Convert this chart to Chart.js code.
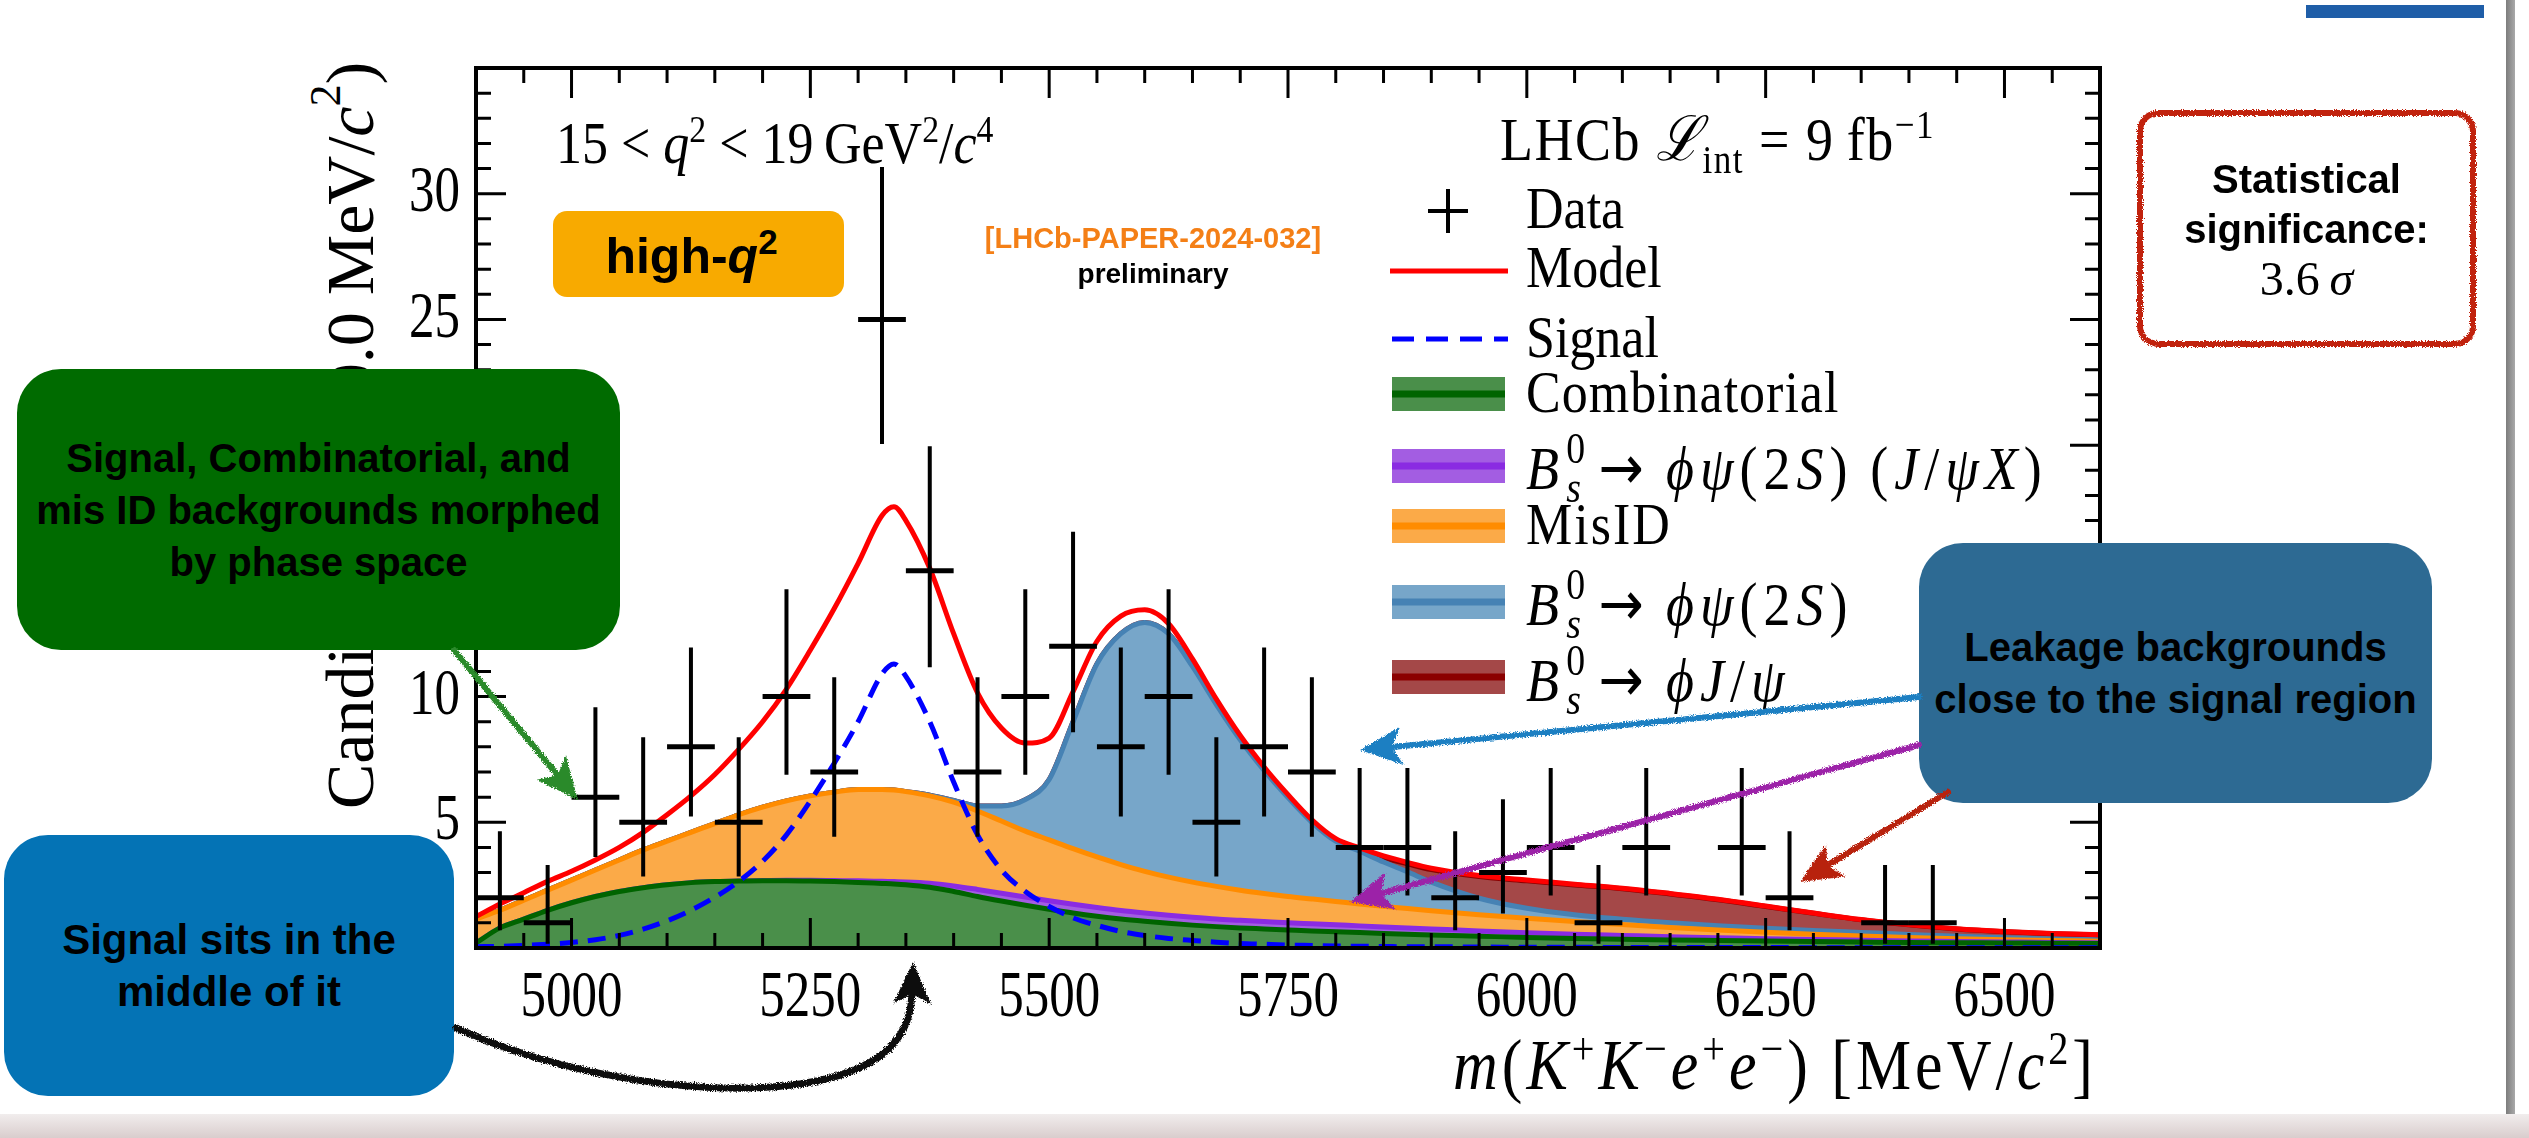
<!DOCTYPE html>
<html>
<head>
<meta charset="utf-8">
<script src="https://cdn.jsdelivr.net/npm/chart.js@4.4.1/dist/chart.umd.min.js"></script>
<style>
  body { margin: 0; width: 2529px; height: 1138px; position: relative; overflow: hidden; background: #fff; }
  #fit { position: absolute; left: 0; top: 0; z-index: 1; }
  .t { position: absolute; line-height: 1; white-space: nowrap; font-family: "Liberation Serif", "DejaVu Serif", serif; color: #000; z-index: 2;
       transform: scaleY(1.15); transform-origin: left 84%; }
  .mx { letter-spacing: 6px; font-size: 54px; }
  .ss { display: inline-block; vertical-align: -0.3em; line-height: 0.9; font-size: 0.7em; margin-left: 0.03em; letter-spacing: 0; }
  .ss span { display: block; }
  .arr { font-family: "DejaVu Sans", sans-serif; margin: 0 0.3em 0 0.25em; }
  .ytitle { position: absolute; left: 292px; top: 62px; height: 800px; width: 68px; writing-mode: vertical-rl; transform: rotate(180deg); text-align: end; font-family: "Liberation Serif", serif; font-size: 68px; line-height: 68px; white-space: nowrap; z-index: 0; }
  .box { position: absolute; display: flex; align-items: center; justify-content: center; text-align: center; font-family: "Liberation Sans", Arial, sans-serif; font-weight: bold; color: #000; z-index: 4; }
  .note { position: absolute; font-family: "Liberation Sans", Arial, sans-serif; font-weight: bold; white-space: nowrap; transform: translateX(-50%); z-index: 2; line-height: 1; }
  #marks { position: absolute; left: 0; top: 0; z-index: 5; pointer-events: none; }
</style>
</head>
<body>
<canvas id="fit" width="2529" height="1138"></canvas>

<div class="ytitle">Candidates / (50.0 MeV/<i>c</i><sup style="font-size:0.65em">2</sup>)</div>

<div class="t" style="left:556px; top:117px; font-size:52px;">15 &lt; <i>q</i><sup style="font-size:0.65em">2</sup> &lt; 19&#8201;GeV<sup style="font-size:0.65em">2</sup>/<i>c</i><sup style="font-size:0.65em">4</sup></div>
<div class="t" style="left:1500px; top:113px; font-size:54px; letter-spacing:1.5px;">LHCb <i>&#8466;</i><sub style="font-size:0.65em">int</sub> = 9&#8201;fb<sup style="font-size:0.65em">&minus;1</sup></div>

<div class="t" style="left:1526px; top:185px; font-size:52px;">Data</div>
<div class="t" style="left:1526px; top:244px; font-size:52px;">Model</div>
<div class="t" style="left:1526px; top:314px; font-size:52px;">Signal</div>
<div class="t" style="left:1526px; top:369px; font-size:52px; letter-spacing:1px;">Combinatorial</div>
<div class="t mx" style="left:1526px; top:437px;"><i>B</i><span class="ss"><span>0</span><span><i>s</i></span></span><span class="arr">&rarr;</span><i>&#981;&psi;</i>(2<i>S</i>)&#8201;(<i>J</i>/<i>&psi;X</i>)</div>
<div class="t" style="left:1526px; top:501px; font-size:52px; letter-spacing:2px;">MisID</div>
<div class="t mx" style="left:1526px; top:573px;"><i>B</i><span class="ss"><span>0</span><span><i>s</i></span></span><span class="arr">&rarr;</span><i>&#981;&psi;</i>(2<i>S</i>)</div>
<div class="t mx" style="left:1526px; top:649px;"><i>B</i><span class="ss"><span>0</span><span><i>s</i></span></span><span class="arr">&rarr;</span><i>&#981;J</i>/<i>&psi;</i></div>

<div class="t" style="right:432px; top:1034px; font-size:62px; letter-spacing:4px;"><i>m</i>(<i>K</i><sup style="font-size:0.65em">+</sup><i>K</i><sup style="font-size:0.65em">&minus;</sup><i>e</i><sup style="font-size:0.65em">+</sup><i>e</i><sup style="font-size:0.65em">&minus;</sup>) [MeV/<i>c</i><sup style="font-size:0.65em">2</sup>]</div>

<div class="note" style="left:1153px; top:224px; font-size:29px; color:#f47f16;">[LHCb-PAPER-2024-032]</div>
<div class="note" style="left:1153px; top:260px; font-size:28px; color:#000;">preliminary</div>

<div class="box" style="left:553px; top:211px; width:291px; height:86px; background:#f8aa00; border-radius:14px; font-size:50px; z-index:2;"><span style="margin-right:14px;">high-<i>q</i><sup style="font-size:0.7em; vertical-align:0.55em;">2</sup></span></div>

<div class="box" style="left:17px; top:369px; width:603px; height:281px; background:#006b00; border-radius:44px; font-size:40px; line-height:52px;">Signal, Combinatorial, and<br>mis ID backgrounds morphed<br>by phase space</div>
<div class="box" style="left:4px; top:835px; width:450px; height:261px; background:#0473b5; border-radius:44px; font-size:42px; line-height:52px;">Signal sits in the<br>middle of it</div>
<div class="box" style="left:1919px; top:543px; width:513px; height:260px; background:#2d6a93; border-radius:44px; font-size:40px; line-height:52px;">Leakage backgrounds<br>close to the signal region</div>
<div class="box" style="left:2140px; top:113px; width:333px; height:231px; font-size:40px; line-height:50px; flex-direction:column;">
  <div>Statistical</div><div>significance:</div>
  <div style="font-family:'Liberation Serif',serif; font-weight:normal; font-size:48px;">3.6&#8201;<i>&sigma;</i></div>
</div>

<div style="position:absolute; left:2306px; top:5px; width:178px; height:13px; background:#1f5ea8;"></div>
<div style="position:absolute; left:2506px; top:0; width:9px; height:1115px; background:linear-gradient(to right,#7c7c7c,#a9a9a9);"></div>
<div style="position:absolute; left:0; top:1114px; width:2529px; height:24px; background:linear-gradient(to bottom,#f1eded,#d9cdcd);"></div>

<svg id="marks" width="2529" height="1138">
  <defs>
    <filter id="rough" filterUnits="userSpaceOnUse" x="0" y="0" width="2529" height="1138">
      <feTurbulence type="fractalNoise" baseFrequency="0.9" numOctaves="2" seed="4" result="n"/>
      <feDisplacementMap in="SourceGraphic" in2="n" scale="5" xChannelSelector="R" yChannelSelector="G"/>
    </filter>
  </defs>
  <g id="legendKeys"></g>
  <g id="arrows" filter="url(#rough)"></g>
</svg>

<script>
// Fit components on a common mass grid [MeV/c^2]. The background components are
// stacked, so each "Top" array holds the upper edge of its band.
const massGrid = [4900, 4925, 4950, 4975, 5000, 5025, 5050, 5075, 5100, 5125, 5150, 5175, 5200, 5225, 5250, 5275, 5300, 5325, 5337.5,
  5350, 5375, 5400, 5425, 5450, 5475, 5500, 5525, 5550, 5575, 5600, 5625, 5650, 5675, 5700, 5725, 5750, 5775, 5800, 5825, 5850, 5875, 5900,
  5950, 6000, 6050, 6100, 6150, 6200, 6250, 6300, 6350, 6400, 6450, 6500, 6550, 6600];

const combinatorialTop = [0.2, 0.8, 1.15, 1.5, 1.8, 2.05, 2.25, 2.4, 2.52, 2.6, 2.64, 2.66, 2.67, 2.67, 2.66, 2.64, 2.61, 2.57, 2.55,
  2.52, 2.42, 2.25, 2.05, 1.87, 1.7, 1.54, 1.39, 1.26, 1.15, 1.06, 0.98, 0.91, 0.85, 0.8, 0.76, 0.72, 0.68, 0.65, 0.62, 0.58, 0.55, 0.52,
  0.47, 0.42, 0.38, 0.35, 0.32, 0.3, 0.28, 0.26, 0.24, 0.22, 0.21, 0.2, 0.19, 0.18];

const psi2SJpsiXTop = [0.2, 0.8, 1.15, 1.5, 1.8, 2.05, 2.25, 2.4, 2.52, 2.6, 2.64, 2.66, 2.68, 2.69, 2.69, 2.68, 2.67, 2.65, 2.64,
  2.63, 2.58, 2.47, 2.33, 2.18, 2.03, 1.88, 1.74, 1.61, 1.49, 1.39, 1.3, 1.22, 1.15, 1.1, 1.05, 1.0, 0.96, 0.92, 0.88, 0.84, 0.8, 0.76,
  0.68, 0.61, 0.55, 0.5, 0.45, 0.41, 0.37, 0.34, 0.31, 0.28, 0.26, 0.24, 0.22, 0.21];

const misIdTop = [1.15, 1.5, 1.9, 2.3, 2.7, 3.1, 3.5, 3.9, 4.25, 4.6, 4.95, 5.3, 5.6, 5.85, 6.05, 6.2, 6.3, 6.3, 6.28,
  6.22, 6.05, 5.8, 5.45, 5.05, 4.65, 4.3, 3.95, 3.62, 3.32, 3.05, 2.82, 2.62, 2.45, 2.3, 2.17, 2.05, 1.95, 1.85, 1.75, 1.66, 1.57, 1.48,
  1.32, 1.18, 1.05, 0.93, 0.82, 0.72, 0.63, 0.55, 0.48, 0.42, 0.37, 0.33, 0.3, 0.27];

const psi2STop = [1.15, 1.5, 1.9, 2.3, 2.7, 3.1, 3.5, 3.9, 4.25, 4.6, 4.95, 5.3, 5.6, 5.85, 6.05, 6.2, 6.3, 6.3, 6.28,
  6.22, 6.08, 5.87, 5.65, 5.65, 5.9, 6.7, 9.0, 11.3, 12.5, 12.95, 12.5, 11.2, 9.68, 8.28, 7.06, 5.98, 5.0, 4.25, 3.85, 3.42, 3.03, 2.62,
  1.98, 1.58, 1.32, 1.14, 1.0, 0.89, 0.79, 0.7, 0.62, 0.54, 0.47, 0.41, 0.36, 0.32];

const jpsiTop = [1.15, 1.5, 1.9, 2.3, 2.7, 3.1, 3.5, 3.9, 4.25, 4.6, 4.95, 5.3, 5.6, 5.85, 6.05, 6.2, 6.3, 6.3, 6.28,
  6.22, 6.08, 5.87, 5.65, 5.65, 5.9, 6.7, 9.0, 11.3, 12.5, 12.95, 12.5, 11.2, 9.68, 8.28, 7.06, 5.98, 5.0, 4.27, 3.9, 3.6, 3.35, 3.12,
  2.84, 2.67, 2.51, 2.36, 2.15, 1.92, 1.65, 1.38, 1.12, 0.92, 0.76, 0.65, 0.57, 0.52];

const signalCurve = [0.05, 0.07, 0.1, 0.15, 0.22, 0.33, 0.5, 0.75, 1.08, 1.5, 2.02, 2.65, 3.45, 4.5, 5.85, 7.35, 9.0, 10.9, 11.3,
  10.8, 9.0, 6.6, 4.5, 3.1, 2.25, 1.65, 1.2, 0.9, 0.66, 0.5, 0.38, 0.3, 0.23, 0.18, 0.15, 0.12, 0.1, 0.08, 0.07, 0.06, 0.05, 0.05,
  0.04, 0.03, 0.03, 0.02, 0.02, 0.02, 0.02, 0.01, 0.01, 0.01, 0.01, 0.01, 0.01, 0.01];

const modelCurve = [1.25, 1.75, 2.2, 2.65, 3.05, 3.5, 4.0, 4.6, 5.3, 6.05, 6.9, 7.9, 9.0, 10.3, 11.85, 13.5, 15.3, 17.2, 17.55,
  17.0, 15.1, 12.5, 10.15, 8.75, 8.15, 8.35, 10.2, 12.2, 13.2, 13.45, 12.9, 11.5, 9.9, 8.45, 7.2, 6.1, 5.1, 4.35, 3.98, 3.66, 3.4, 3.17,
  2.88, 2.7, 2.54, 2.38, 2.17, 1.94, 1.67, 1.39, 1.13, 0.93, 0.77, 0.66, 0.58, 0.53];

// Data: 50 MeV bins (empty bins are not drawn), with Poisson 68% intervals
const binWidth = 50;
const binCenters = [4925, 4975, 5025, 5075, 5125, 5175, 5225, 5275, 5325, 5375, 5425, 5475, 5525, 5575, 5625, 5675, 5725, 5775,
  5825, 5875, 5925, 5975, 6025, 6075, 6125, 6225, 6275, 6375, 6425];
const counts = [2, 1, 6, 5, 8, 5, 10, 7, 25, 15, 7, 10, 12, 8, 10, 5, 8, 7, 4, 4, 2, 3, 4, 1, 4, 4, 2, 1, 1];
const errLow = [0.71, 0.17, 3.62, 2.84, 5.23, 2.84, 6.89, 4.42, 20.05, 11.17, 4.42, 6.89, 8.58, 5.23, 6.89, 2.84, 5.23, 4.42,
  2.09, 2.09, 0.71, 1.37, 2.09, 0.17, 2.09, 2.09, 0.71, 0.17, 0.17];
const errHigh = [4.64, 3.30, 9.58, 8.38, 11.95, 8.38, 14.27, 10.77, 31.06, 19.96, 10.77, 14.27, 16.56, 11.95, 14.27, 8.38, 11.95, 10.77,
  7.16, 7.16, 4.64, 5.92, 7.16, 3.30, 7.16, 7.16, 4.64, 3.30, 3.30];

const xTickLabels = [5000, 5250, 5500, 5750, 6000, 6250, 6500];
const yTickLabels = [5, 10, 15, 20, 25, 30];

const pts = arr => massGrid.map((m, i) => ({ x: m, y: arr[i] }));

function band(label, arr, fill, edge, order, fillTo) {
  return {
    label, data: pts(arr), order,
    borderColor: edge, borderWidth: 5, backgroundColor: fill,
    fill: fillTo, pointRadius: 0, cubicInterpolationMode: 'monotone'
  };
}

// inward ticks on all four sides plus the frame and tick labels
const frameTicks = {
  id: 'frameTicks',
  afterDatasetsDraw(chart) {
    const { ctx, chartArea: a, scales: { x, y } } = chart;
    ctx.save();
    ctx.strokeStyle = '#000';
    ctx.lineWidth = 3;
    ctx.beginPath();
    for (let v = x.min; v <= x.max; v += 50) {
      const px = x.getPixelForValue(v);
      const len = v % 250 === 0 ? 30 : 15;
      ctx.moveTo(px, a.bottom); ctx.lineTo(px, a.bottom - len);
      ctx.moveTo(px, a.top); ctx.lineTo(px, a.top + len);
    }
    for (let v = y.min; v <= y.max; v += 1) {
      const py = y.getPixelForValue(v);
      const len = v % 5 === 0 ? 30 : 15;
      ctx.moveTo(a.left, py); ctx.lineTo(a.left + len, py);
      ctx.moveTo(a.right, py); ctx.lineTo(a.right - len, py);
    }
    ctx.stroke();
    ctx.lineWidth = 4;
    ctx.strokeRect(a.left, a.top, a.right - a.left, a.bottom - a.top);

    // labels are drawn a little taller than wide, like the original figure
    ctx.fillStyle = '#000';
    ctx.font = '51px "Liberation Serif"';
    ctx.textAlign = 'center';
    ctx.textBaseline = 'alphabetic';
    xTickLabels.forEach(v => {
      ctx.save();
      ctx.translate(x.getPixelForValue(v), a.bottom + 68);
      ctx.scale(1, 1.28);
      ctx.fillText(String(v), 0, 0);
      ctx.restore();
    });
    ctx.textAlign = 'right';
    ctx.textBaseline = 'middle';
    yTickLabels.forEach(v => {
      ctx.save();
      ctx.translate(a.left - 16, y.getPixelForValue(v));
      ctx.scale(1, 1.28);
      ctx.fillText(String(v), 0, 0);
      ctx.restore();
    });
    ctx.restore();
  }
};

// vertical error bars for the data points
const errorBars = {
  id: 'errorBars',
  afterDatasetsDraw(chart) {
    const { ctx, scales: { x, y } } = chart;
    ctx.save();
    ctx.strokeStyle = '#000';
    ctx.lineWidth = 4;
    ctx.beginPath();
    binCenters.forEach((m, i) => {
      const px = x.getPixelForValue(m);
      ctx.moveTo(px, y.getPixelForValue(errLow[i]));
      ctx.lineTo(px, y.getPixelForValue(errHigh[i]));
    });
    ctx.stroke();
    ctx.restore();
  }
};

new Chart(document.getElementById('fit'), {
  type: 'line',
  data: {
    datasets: [
      band('Combinatorial', combinatorialTop, '#4a8f4a', '#006400', 3, 'origin'),
      band('Bs -> phi psi(2S) (J/psi X)', psi2SJpsiXTop, '#a35de2', '#8a2be2', 4, '-1'),
      band('MisID', misIdTop, '#fbaa48', '#ff8c00', 5, '-1'),
      band('Bs -> phi psi(2S)', psi2STop, '#77a6c9', '#4682b4', 6, '-1'),
      band('Bs -> phi J/psi', jpsiTop, '#a44848', '#8b0000', 7, '-1'),
      {
        label: 'Signal', data: pts(signalCurve), order: 2,
        borderColor: '#0000ff', borderWidth: 5, borderDash: [18, 10],
        fill: false, pointRadius: 0, cubicInterpolationMode: 'monotone'
      },
      {
        label: 'Model', data: pts(modelCurve), order: 1,
        borderColor: '#ff0000', borderWidth: 5,
        fill: false, pointRadius: 0, cubicInterpolationMode: 'monotone'
      },
      {
        label: 'Data', data: binCenters.map((m, i) => ({ x: m, y: counts[i] })), order: 0,
        showLine: false, pointStyle: 'line', pointBorderColor: '#000', pointBorderWidth: 5,
        pointRadius: c => (c.chart.scales.x.getPixelForValue(binWidth) - c.chart.scales.x.getPixelForValue(0)) / 2
      }
    ]
  },
  options: {
    responsive: false,
    animation: false,
    devicePixelRatio: 1,
    layout: { padding: { left: 476, top: 68, right: 429, bottom: 190 } },
    scales: {
      x: { type: 'linear', min: 4900, max: 6600, display: false },
      y: { min: 0, max: 35, display: false }
    },
    plugins: { legend: { display: false }, tooltip: { enabled: false } }
  },
  plugins: [errorBars, frameTicks]
});

// legend keys and hand-drawn arrows
const NS = 'http://www.w3.org/2000/svg';
function el(parent, tag, attrs) {
  const e = document.createElementNS(NS, tag);
  for (const k in attrs) e.setAttribute(k, attrs[k]);
  parent.appendChild(e);
  return e;
}

const keys = document.getElementById('legendKeys');
el(keys, 'line', { x1: 1428, y1: 211, x2: 1468, y2: 211, stroke: '#000', 'stroke-width': 4 });
el(keys, 'line', { x1: 1448, y1: 189, x2: 1448, y2: 233, stroke: '#000', 'stroke-width': 4 });
el(keys, 'line', { x1: 1390, y1: 271, x2: 1508, y2: 271, stroke: '#ff0000', 'stroke-width': 5 });
el(keys, 'line', { x1: 1392, y1: 339, x2: 1508, y2: 339, stroke: '#0000ff', 'stroke-width': 5, 'stroke-dasharray': '22 12' });
[[394, '#4a8f4a', '#006400'], [466, '#a35de2', '#8a2be2'], [526, '#fbaa48', '#ff8c00'],
 [602, '#77a6c9', '#4682b4'], [677, '#a44848', '#8b0000']].forEach(([cy, fill, edge]) => {
  el(keys, 'rect', { x: 1392, y: cy - 17, width: 113, height: 34, fill });
  el(keys, 'line', { x1: 1392, y1: cy, x2: 1505, y2: cy, stroke: edge, 'stroke-width': 7 });
});

const arrows = document.getElementById('arrows');
function head(x1, y1, x2, y2, color) {
  const d = Math.hypot(x2 - x1, y2 - y1), ux = (x2 - x1) / d, uy = (y2 - y1) / d;
  const bx = x2 - ux * 42, by = y2 - uy * 42;
  el(arrows, 'polygon', {
    points: `${x2},${y2} ${bx - uy * 19},${by + ux * 19} ${bx + ux * 10},${by + uy * 10} ${bx + uy * 19},${by - ux * 19}`,
    fill: color
  });
}
function arrow(x1, y1, x2, y2, color) {
  const d = Math.hypot(x2 - x1, y2 - y1);
  el(arrows, 'line', { x1, y1, x2: x2 - (x2 - x1) / d * 30, y2: y2 - (y2 - y1) / d * 30, stroke: color, 'stroke-width': 6, 'stroke-linecap': 'round' });
  head(x1, y1, x2, y2, color);
}
arrow(454, 650, 578, 800, '#2b8a2b');
arrow(1919, 697, 1360, 750, '#1b7fc2');
arrow(1919, 745, 1350, 902, '#9c23a8');
arrow(1948, 792, 1800, 882, '#b8230f');
el(arrows, 'path', { d: 'M456 1028 C560 1075 700 1098 800 1084 C880 1072 912 1040 912 990', fill: 'none', stroke: '#111', 'stroke-width': 7, 'stroke-linecap': 'round' });
head(912, 1010, 913, 962, '#111');
el(arrows, 'rect', { x: 2140, y: 113, width: 333, height: 231, rx: 18, fill: 'none', stroke: '#c1230e', 'stroke-width': 6 });
</script>
</body>
</html>
